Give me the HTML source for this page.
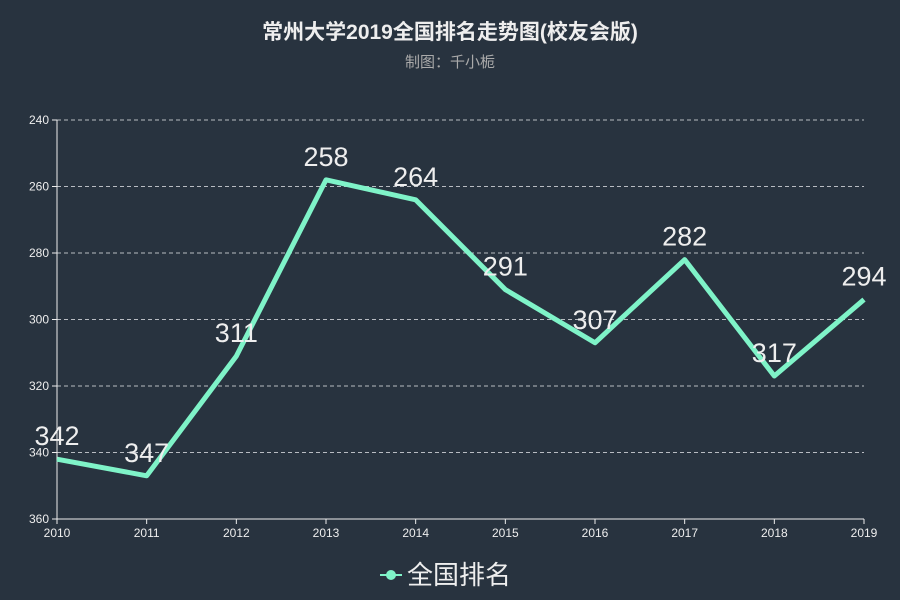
<!DOCTYPE html>
<html><head><meta charset="utf-8"><style>
html,body{margin:0;padding:0;background:#28333f;}
svg{display:block;font-family:"Liberation Sans","Noto Sans CJK SC",sans-serif;}
</style></head><body>
<svg id="chart" width="900" height="600">
<rect width="900" height="600" fill="#28333f"/>
<text x="450" y="39" text-anchor="middle" fill="#eeeeee" font-size="21" font-weight="bold">常州大学2019全国排名走势图(校友会版)</text>
<text x="450" y="67" text-anchor="middle" fill="#aaaaaa" font-size="15">制图：千小栀</text>
<g id="grid"></g><g id="axes"></g><g id="series"></g>
<g>
<line x1="380" y1="575" x2="402" y2="575" stroke="#7ff3c8" stroke-width="2"/>
<circle cx="391" cy="575" r="5" fill="#7ff3c8"/>
<text x="407" y="584" fill="#eeeeee" font-size="26">全国排名</text>
</g>
</svg>
<script>
const years=["2010","2011","2012","2013","2014","2015","2016","2017","2018","2019"];
const ranks=[342,347,311,258,264,291,307,282,317,294];
const yTicks=[240,260,280,300,320,340,360];
const NS="http://www.w3.org/2000/svg";
const x0=57,x1=864,yTop=120,yBot=519,vMin=240,vMax=360;
function xs(i){return x0+(x1-x0)*i/(years.length-1);}
function ys(v){return yTop+(v-vMin)/(vMax-vMin)*(yBot-yTop);}
function mk(tag,attrs,parent){const e=document.createElementNS(NS,tag);for(const k in attrs)e.setAttribute(k,attrs[k]);parent.appendChild(e);return e;}
const grid=document.getElementById('grid'),axes=document.getElementById('axes'),ser=document.getElementById('series');
yTicks.forEach(t=>{
  const y=ys(t);
  if(t!==vMax){const g=mk('line',{x1:x0,x2:x1,y1:y,y2:y,stroke:'#b8bcc2','stroke-dasharray':'4,3','stroke-width':1},grid);
  
  }
  const tk=mk('line',{x1:x0-5,x2:x0,y1:y,y2:y,stroke:'#eee'},axes);
  
  
  const lb=mk('text',{x:x0-8,y:y+4,'text-anchor':'end',fill:'#eee','font-size':12},axes);
  lb.textContent=t;
  
  
});
const ya=mk('line',{x1:x0,x2:x0,y1:yTop,y2:yBot,stroke:'#eee'},axes);


const xa=mk('line',{x1:x0,x2:x1,y1:yBot,y2:yBot,stroke:'#eee'},axes);


years.forEach((yr,i)=>{
  const x=xs(i);
  const tk=mk('line',{x1:x,x2:x,y1:yBot,y2:yBot+5,stroke:'#eee'},axes);
  
  
  const lb=mk('text',{x:x,y:yBot+18,'text-anchor':'middle',fill:'#eee','font-size':12},axes);
  lb.textContent=yr;
  
  
});
const pts=ranks.map((v,i)=>xs(i)+','+ys(v)).join(' ');
const pl=mk('polyline',{points:pts,fill:'none',stroke:'#7ff3c8','stroke-width':5,'stroke-linejoin':'round'},ser);


ranks.forEach((v,i)=>{
  const t=mk('text',{x:xs(i),y:ys(v)-14,'text-anchor':'middle',fill:'#eeeeee','font-size':27},ser);
  t.textContent=v;
  
  
});
</script>
</body></html>
